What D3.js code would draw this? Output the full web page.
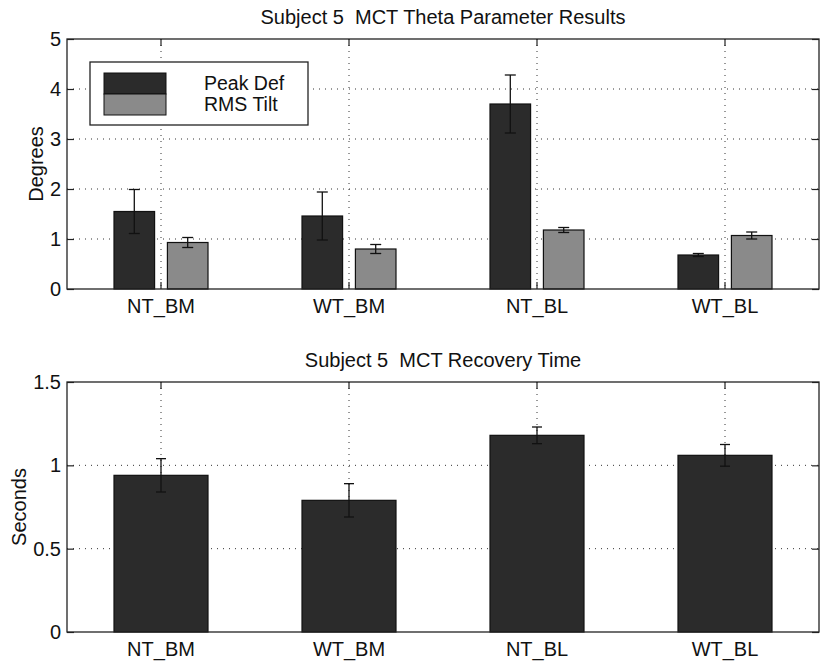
<!DOCTYPE html>
<html>
<head>
<meta charset="utf-8">
<script src="https://cdn.jsdelivr.net/npm/d3@7"></script>
<style>
  body { margin: 0; background: #fff; }
  svg { display: block; font-family: "Liberation Sans", Arial, Helvetica, sans-serif; }
  .title { white-space: pre; }
</style>
</head>
<body>
<svg id="chart" width="823" height="666"></svg>
<script>
// ---- data ----
const categories = ["NT_BM", "WT_BM", "NT_BL", "WT_BL"];
const seriesNames = ["Peak Def", "RMS Tilt"];
const peakDef = [1.55, 1.46, 3.70, 0.68];
const peakDefErr = [0.44, 0.48, 0.58, 0.03];
const rmsTilt = [0.93, 0.80, 1.18, 1.07];
const rmsTiltErr = [0.10, 0.09, 0.05, 0.07];
const recovery = [0.94, 0.79, 1.18, 1.06];
const recoveryErr = [0.10, 0.10, 0.05, 0.065];
const topTicks = [0, 1, 2, 3, 4, 5];
const bottomTicks = [0, 0.5, 1, 1.5];

const topTitle = "Subject 5  MCT Theta Parameter Results";
const bottomTitle = "Subject 5  MCT Recovery Time";

// ---- styles ----
const colors = { "Peak Def": "#2b2b2b", "RMS Tilt": "#8a8a8a" };
const fontSize = 20;
const left = 67, right = 819;

const svg = d3.select("#chart");

function drawPanel(g, opts) {
  const { top, bottom, yMax, ticks, title, ylabel, ylabelX } = opts;
  const y = d3.scaleLinear().domain([0, yMax]).range([bottom, top]);
  const xGroup = d3.scaleBand().domain(categories).range([left, right])
    .paddingInner(0.5).paddingOuter(0.25);

  // grid
  const grid = g.append("g").attr("stroke", "#333").attr("stroke-width", 1)
    .attr("stroke-dasharray", "1,5");
  ticks.filter(t => t > 0 && t < yMax).forEach(t => {
    grid.append("line").attr("x1", left).attr("x2", right)
      .attr("y1", y(t)).attr("y2", y(t));
  });
  categories.forEach(c => {
    const cx = xGroup(c) + xGroup.bandwidth() / 2;
    grid.append("line").attr("x1", cx).attr("x2", cx)
      .attr("y1", top).attr("y2", bottom);
  });

  // axes
  const fmt = d => d3.format("~g")(d);
  const axL = g.append("g").attr("transform", `translate(${left},0)`)
    .call(d3.axisLeft(y).tickValues(ticks).tickFormat(fmt).tickSizeInner(-7).tickSizeOuter(0).tickPadding(6));
  const axR = g.append("g").attr("transform", `translate(${right},0)`)
    .call(d3.axisRight(y).tickValues(ticks).tickFormat("").tickSizeInner(-7).tickSizeOuter(0));
  const axB = g.append("g").attr("transform", `translate(0,${bottom})`)
    .call(d3.axisBottom(xGroup).tickSizeInner(-7).tickSizeOuter(0).tickPadding(10));
  const axT = g.append("g").attr("transform", `translate(0,${top})`)
    .call(d3.axisTop(xGroup).tickFormat("").tickSizeInner(-7).tickSizeOuter(0));
  [axL, axR, axB, axT].forEach(a => {
    a.select(".domain").remove();
    a.selectAll("line").attr("stroke", "#222").attr("stroke-width", 1.2);
    a.selectAll("text").attr("font-size", fontSize).attr("fill", "#111")
      .attr("font-family", '"Liberation Sans", Arial, Helvetica, sans-serif');
  });

  // title
  g.append("text").attr("class", "title")
    .attr("x", (left + right) / 2).attr("y", top - 15)
    .attr("text-anchor", "middle").attr("font-size", fontSize).attr("fill", "#111")
    .text(title);
  // y label
  g.append("text")
    .attr("transform", `translate(${ylabelX},${(top + bottom) / 2}) rotate(-90)`)
    .attr("text-anchor", "middle").attr("font-size", fontSize).attr("fill", "#111")
    .text(ylabel);

  return { y, xGroup };
}

function drawErr(g, cx, v, e, y, capW) {
  const eg = g.append("g").attr("stroke", "#111").attr("stroke-width", 1.3);
  eg.append("line").attr("x1", cx).attr("x2", cx).attr("y1", y(v - e)).attr("y2", y(v + e));
  eg.append("line").attr("x1", cx - capW / 2).attr("x2", cx + capW / 2).attr("y1", y(v + e)).attr("y2", y(v + e));
  eg.append("line").attr("x1", cx - capW / 2).attr("x2", cx + capW / 2).attr("y1", y(v - e)).attr("y2", y(v - e));
}

// ---- top panel ----
const gTop = svg.append("g");
const topTopY = 39, topBottomY = 289;
const P1 = drawPanel(gTop, { top: topTopY, bottom: topBottomY, yMax: 5, ticks: topTicks,
  title: topTitle, ylabel: "Degrees", ylabelX: 43 });
const x1 = d3.scaleBand().domain(seriesNames).range([0, P1.xGroup.bandwidth()]).paddingInner(0.24);
const topData = [
  { name: "Peak Def", vals: peakDef, errs: peakDefErr },
  { name: "RMS Tilt", vals: rmsTilt, errs: rmsTiltErr }
];
const barsTop = gTop.append("g");
topData.forEach(s => {
  categories.forEach((c, i) => {
    const bx = P1.xGroup(c) + x1(s.name);
    barsTop.append("rect")
      .attr("x", bx).attr("width", x1.bandwidth())
      .attr("y", P1.y(s.vals[i])).attr("height", P1.y(0) - P1.y(s.vals[i]))
      .attr("fill", colors[s.name]).attr("stroke", "#111").attr("stroke-width", 1.2);
  });
});
topData.forEach(s => {
  categories.forEach((c, i) => {
    const cx = P1.xGroup(c) + x1(s.name) + x1.bandwidth() / 2;
    drawErr(barsTop, cx, s.vals[i], s.errs[i], P1.y, 11);
  });
});
// frame
gTop.append("rect").attr("x", left).attr("y", topTopY).attr("width", right - left)
  .attr("height", topBottomY - topTopY).attr("fill", "none").attr("stroke", "#222").attr("stroke-width", 1.3);

// legend
const lg = gTop.append("g");
lg.append("rect").attr("x", 90).attr("y", 62).attr("width", 218).attr("height", 63)
  .attr("fill", "#fff").attr("stroke", "#222").attr("stroke-width", 1.3);
seriesNames.forEach((n, i) => {
  lg.append("rect").attr("x", 104).attr("y", 73 + i * 21).attr("width", 62).attr("height", 21)
    .attr("fill", colors[n]).attr("stroke", "#111").attr("stroke-width", 1);
  lg.append("text").attr("x", 204).attr("y", 89.5 + i * 21)
    .attr("font-size", 19.5).attr("fill", "#111").text(n);
});

// ---- bottom panel ----
const gBot = svg.append("g");
const botTopY = 382, botBottomY = 632;
const P2 = drawPanel(gBot, { top: botTopY, bottom: botBottomY, yMax: 1.5, ticks: bottomTicks,
  title: bottomTitle, ylabel: "Seconds", ylabelX: 26 });
const barsBot = gBot.append("g");
categories.forEach((c, i) => {
  barsBot.append("rect")
    .attr("x", P2.xGroup(c)).attr("width", P2.xGroup.bandwidth())
    .attr("y", P2.y(recovery[i])).attr("height", P2.y(0) - P2.y(recovery[i]))
    .attr("fill", colors["Peak Def"]).attr("stroke", "#111").attr("stroke-width", 1.2);
});
categories.forEach((c, i) => {
  drawErr(barsBot, P2.xGroup(c) + P2.xGroup.bandwidth() / 2, recovery[i], recoveryErr[i], P2.y, 10);
});
gBot.append("rect").attr("x", left).attr("y", botTopY).attr("width", right - left)
  .attr("height", botBottomY - botTopY).attr("fill", "none").attr("stroke", "#222").attr("stroke-width", 1.3);
</script>
</body>
</html>
